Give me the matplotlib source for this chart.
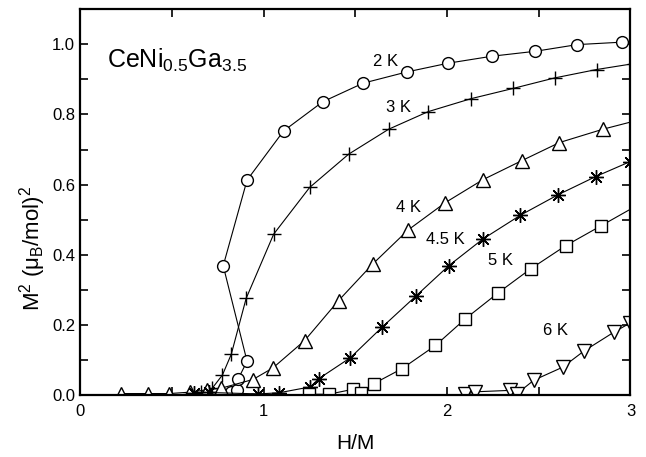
import matplotlib
matplotlib.use("Agg")
import matplotlib.pyplot as plt
from matplotlib.ticker import MultipleLocator, FormatStrFormatter

plt.rcParams['font.family'] = ['Liberation Sans', 'DejaVu Sans']
plt.rcParams['mathtext.fontset'] = 'custom'
plt.rcParams['mathtext.rm'] = 'Liberation Sans'
plt.rcParams['mathtext.it'] = 'Liberation Sans'
plt.rcParams['mathtext.default'] = 'regular'

# ---- data (H/M, M^2) ----
x_2K = [0.82, 0.853, 0.862, 0.91, 0.78, 0.91, 1.109, 1.322, 1.542, 1.78, 2.006, 2.246, 2.482, 2.71, 2.955]
y_2K = [0.010, 0.014, 0.047, 0.097, 0.369, 0.613, 0.753, 0.836, 0.889, 0.921, 0.946, 0.966, 0.980, 0.999, 1.006]

x_3K = [0.60, 0.66, 0.72, 0.776, 0.824, 0.905, 1.055, 1.251, 1.464, 1.682, 1.897, 2.131, 2.359, 2.586, 2.815, 3.02]
y_3K = [0.003, 0.008, 0.020, 0.058, 0.117, 0.276, 0.459, 0.592, 0.687, 0.758, 0.808, 0.845, 0.874, 0.904, 0.928, 0.945]

x_4K = [0.224, 0.37, 0.487, 0.60, 0.694, 0.767, 0.942, 1.051, 1.224, 1.409, 1.595, 1.788, 1.991, 2.195, 2.406, 2.613, 2.85, 3.05]
y_4K = [0.005, 0.005, 0.005, 0.009, 0.016, 0.020, 0.045, 0.078, 0.156, 0.270, 0.374, 0.471, 0.549, 0.614, 0.668, 0.720, 0.758, 0.785]

x_45K = [0.62, 0.70, 0.97, 1.082, 1.255, 1.30, 1.473, 1.646, 1.833, 2.009, 2.195, 2.40, 2.604, 2.81, 2.995]
y_45K = [0.006, 0.008, 0.004, 0.007, 0.024, 0.047, 0.107, 0.194, 0.284, 0.369, 0.445, 0.513, 0.571, 0.623, 0.665]

x_5K = [1.246, 1.355, 1.486, 1.533, 1.60, 1.755, 1.937, 2.10, 2.279, 2.455, 2.646, 2.84, 3.05]
y_5K = [0.003, 0.003, 0.017, 0.007, 0.033, 0.076, 0.142, 0.218, 0.292, 0.360, 0.426, 0.483, 0.545]

x_6K = [2.10, 2.155, 2.342, 2.38, 2.473, 2.63, 2.746, 2.91, 2.995]
y_6K = [0.003, 0.010, 0.014, 0.004, 0.043, 0.080, 0.126, 0.180, 0.205]

curve_labels = ["2 K", "3 K", "4 K", "4.5 K", "5 K", "6 K"]
label_x = [1.664, 1.735, 1.79, 1.99, 2.29, 2.59]
label_y = [0.952, 0.821, 0.534, 0.443, 0.384, 0.185]

fig = plt.figure(figsize=(6.46, 4.57), dpi=100)
ax = fig.add_axes([0.124, 0.135, 0.852, 0.845])

series = [(x_2K, y_2K, 'o', 8.5), (x_3K, y_3K, '+', 9.5), (x_4K, y_4K, '^', 9.5),
          (x_45K, y_45K, (8, 2, 0), 10.5), (x_5K, y_5K, 's', 8), (x_6K, y_6K, 'v', 9.5)]
for xs, ys, m, ms in series:
    ax.plot(xs, ys, color='black', lw=0.8, marker=m, ms=ms,
            mfc='white', mec='black', mew=1.0, clip_on=True)

for t, lx, ly in zip(curve_labels, label_x, label_y):
    ax.text(lx, ly, t, fontsize=12, ha='center', va='center')

ax.text(0.147, 0.955, r'CeNi$_{0.5}$Ga$_{3.5}$', fontsize=18, ha='left', va='center')

ax.set_xlim(0, 3)
ax.set_ylim(0, 1.1)
ax.xaxis.set_major_locator(MultipleLocator(1))
ax.xaxis.set_minor_locator(MultipleLocator(0.5))
ax.yaxis.set_major_locator(MultipleLocator(0.2))
ax.yaxis.set_minor_locator(MultipleLocator(0.1))
ax.yaxis.set_major_formatter(FormatStrFormatter('%.1f'))
ax.tick_params(which='both', direction='in', top=True, right=True, labelsize=12, width=1.2)
ax.tick_params(which='major', length=6)
ax.tick_params(which='minor', length=6)
ax.tick_params(axis='x', pad=6)
for s in ax.spines.values():
    s.set_linewidth(1.6)

ax.set_xlabel('H/M', fontsize=15, labelpad=11)
ax.set_ylabel('M$^2$ (μ$_B$/mol)$^2$', fontsize=16)
ax.yaxis.set_label_coords(-0.058, 0.38)

fig.savefig('out.png', dpi=100)
